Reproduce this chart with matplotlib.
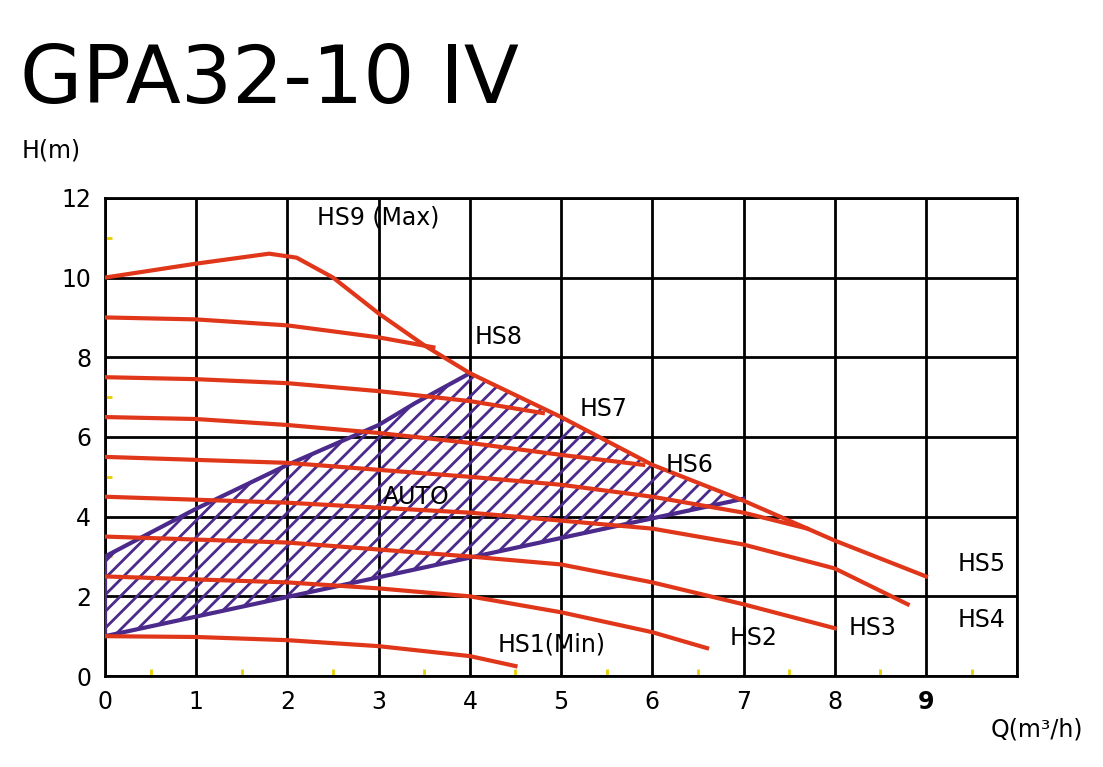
import matplotlib
matplotlib.use("Agg")
import matplotlib.pyplot as plt
import numpy as np

curves = {
    "HS9": ([0, 1, 1.8, 2.1, 2.5, 3, 3.5, 4, 5, 6, 7, 8, 9],
            [10, 10.35, 10.6, 10.5, 10.0, 9.1, 8.3, 7.6, 6.5, 5.3, 4.4, 3.4, 2.5]),
    "HS8": ([0, 1, 2, 3, 3.6], [9, 8.95, 8.8, 8.5, 8.25]),
    "HS7": ([0, 1, 2, 3, 4, 4.8], [7.5, 7.45, 7.35, 7.15, 6.9, 6.6]),
    "HS6": ([0, 1, 2, 3, 4, 5, 5.9], [6.5, 6.45, 6.3, 6.1, 5.85, 5.55, 5.3]),
    "HS5": ([0, 2, 4, 5, 6, 7, 7.7], [5.5, 5.35, 5.0, 4.8, 4.5, 4.1, 3.7]),
    "HS4": ([0, 2, 4, 6, 7, 8, 8.8], [4.5, 4.35, 4.1, 3.7, 3.3, 2.7, 1.8]),
    "HS3": ([0, 2, 4, 5, 6, 7, 8], [3.5, 3.35, 3.0, 2.8, 2.35, 1.8, 1.2]),
    "HS2": ([0, 2, 3, 4, 5, 6, 6.6], [2.5, 2.35, 2.2, 2.0, 1.6, 1.1, 0.7]),
    "HS1": ([0, 1, 2, 3, 4, 4.5], [1.0, 0.98, 0.9, 0.75, 0.5, 0.25]),
}
auto_x = [0, 1, 2, 3, 3.4, 4, 5, 6, 7, 0]
auto_y = [3.0, 4.2, 5.3, 6.3, 6.85, 7.6, 6.5, 5.3, 4.4, 1.0]

labels = [("HS9 (Max)", 3.0, 11.5, "center"), ("HS8", 4.05, 8.5, "left"),
          ("HS7", 5.2, 6.7, "left"), ("HS6", 6.15, 5.3, "left"),
          ("AUTO", 3.05, 4.5, "left"), ("HS5", 9.35, 2.8, "left"),
          ("HS4", 9.35, 1.4, "left"), ("HS3", 8.15, 1.2, "left"),
          ("HS2", 6.85, 0.95, "left"), ("HS1(Min)", 4.3, 0.8, "left")]

fig = plt.figure(figsize=(11.03, 7.67), dpi=100)
ax = fig.add_axes([0.0952, 0.1186, 0.827, 0.6234])
ax.set_xlim(0, 10)
ax.set_ylim(0, 12)
purple = "#4b2a8c"
red = "#e0361a"
plt.rcParams['hatch.linewidth'] = 2.0
ax.fill(auto_x, auto_y, facecolor="none", edgecolor=purple, hatch="//", lw=0, zorder=2)
ax.plot([0, 0, 1, 2, 3, 3.4, 4], [1.0, 3.0, 4.2, 5.3, 6.3, 6.85, 7.6], color=purple, lw=3, zorder=3)
ax.plot([0, 7], [1.0, 4.45], color=purple, lw=3, zorder=3)
for k, (xs, ys) in curves.items():
    ax.plot(xs, ys, color=red, lw=3, zorder=4)
for t, x, y, ha in labels:
    ax.text(x, y, t, fontsize=17, ha=ha, va="center", family="DejaVu Sans", zorder=5)
ax.set_xticks(range(0, 11))
ax.set_yticks(range(0, 13, 2))
ax.grid(True, color="black", lw=2)
ax.set_xticks(np.arange(0.5, 10, 1), minor=True)
ax.set_yticks(np.arange(1, 12, 2), minor=True)
ax.tick_params(which="minor", color="#e8d000", length=5, width=2, direction="in")
ax.tick_params(which="major", length=0, labelsize=17, pad=10)
ax.set_xticklabels([str(i) for i in range(10)] + [""])
ax.get_xticklabels()[9].set_fontweight("bold")
for s in ax.spines.values():
    s.set_linewidth(2)
ax.set_axisbelow(True)
fig.text(0.02, 0.795, "H(m)", fontsize=17)
fig.text(0.898, 0.04, "Q(m³/h)", fontsize=17)
fig.text(0.018, 0.895, "GPA32-10 IV", fontsize=58, va="center")
fig.savefig("out.png", dpi=100)
